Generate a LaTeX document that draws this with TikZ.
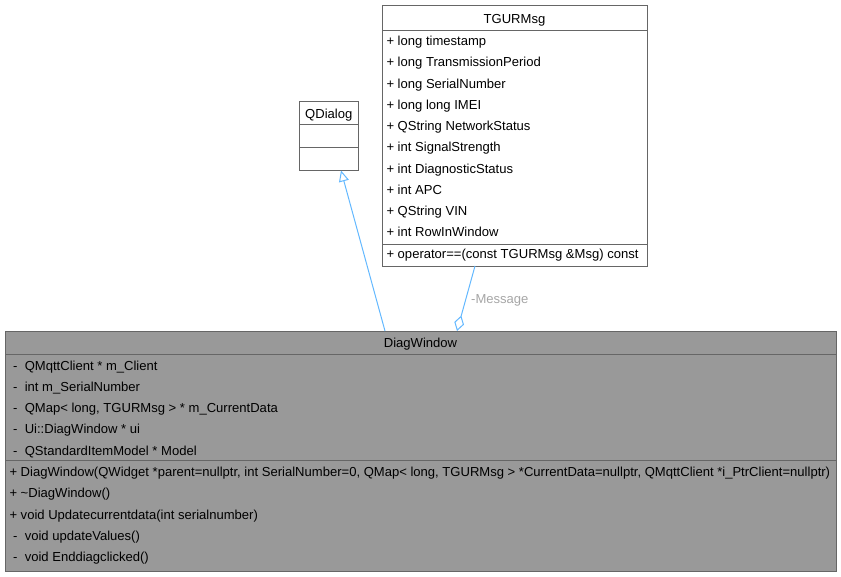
\documentclass[tikz,border=0pt]{standalone}
\usepackage{fontspec}
\setmainfont{Liberation Sans}
\usetikzlibrary{arrows.meta}
\definecolor{edgeblue}{HTML}{63B8FF}
\definecolor{boxborder}{HTML}{666666}
\definecolor{dwfill}{HTML}{999999}
\definecolor{lblgray}{HTML}{A6A6A6}
\newcommand\privm{\makebox[15.3pt][l]{\hspace*{3.5pt}-}}
\begin{document}
\begin{tikzpicture}[x=1pt,y=-1pt,
  every node/.style={font=\fontsize{13.05}{16}\selectfont},
  classbox/.style={draw=boxborder, line width=1pt, fill=white, inner sep=0pt, outer sep=0pt, anchor=north west, rectangle},
  member/.style={inner sep=0pt, anchor=base west},
  ttl/.style={inner sep=0pt, anchor=base},
  sepline/.style={draw=boxborder, line width=1pt},
  conn/.style={draw=edgeblue, line width=1pt},
  lbl/.style={inner sep=0pt, anchor=base west, text=lblgray},
  ]
\useasboundingbox (0,0) rectangle (841,576);

% QDialog
\node[classbox, minimum width=59.5pt, minimum height=69.5pt] (qd) at (299,101) {};
\draw[sepline] ([yshift=-23.5pt]qd.north west) -- ([yshift=-23.5pt]qd.north east);
\draw[sepline] ([yshift=-46pt]qd.north west) -- ([yshift=-46pt]qd.north east);
\node[ttl] (qdt) at (328.75,118.3) {QDialog};

% TGURMsg
\node[classbox, minimum width=265pt, minimum height=261pt] (tg) at (382,5) {};
\draw[sepline] ([yshift=-25.5pt]tg.north west) -- ([yshift=-25.5pt]tg.north east);
\draw[sepline] ([yshift=-239pt]tg.north west) -- ([yshift=-239pt]tg.north east);
\node[ttl] (tgt) at (514.5,23.8) {TGURMsg};
\node[member] (tga1) at (386.3,45.5) {+ long timestamp};
\node[member] (tga2) at (386.3,66.75) {+ long TransmissionPeriod};
\node[member] (tga3) at (386.3,88) {+ long SerialNumber};
\node[member] (tga4) at (386.3,109.25) {+ long long IMEI};
\node[member] (tga5) at (386.3,130.5) {+ QString NetworkStatus};
\node[member] (tga6) at (386.3,151.75) {+ int SignalStrength};
\node[member] (tga7) at (386.3,173) {+ int DiagnosticStatus};
\node[member] (tga8) at (386.3,194.25) {+ int APC};
\node[member] (tga9) at (386.3,215.5) {+ QString VIN};
\node[member] (tga10) at (386.3,236.75) {+ int RowInWindow};
\node[member] (tgm1) at (386.3,258.5) {+ operator==(const TGURMsg \&Msg) const};

% DiagWindow
\node[classbox, fill=dwfill, minimum width=831pt, minimum height=240pt] (dw) at (5,331) {};
\draw[sepline] ([yshift=-23pt]dw.north west) -- ([yshift=-23pt]dw.north east);
\draw[sepline] ([yshift=-129.7pt]dw.north west) -- ([yshift=-129.7pt]dw.north east);
\node[ttl] (dwt) at (420.5,347.8) {DiagWindow};
\node[member] (dwa1) at (9.3,370) {\privm QMqttClient * m\_Client};
\node[member] (dwa2) at (9.3,391.25) {\privm int m\_SerialNumber};
\node[member] (dwa3) at (9.3,412.5) {\privm QMap< long, TGURMsg > * m\_CurrentData};
\node[member] (dwa4) at (9.3,433.75) {\privm Ui::DiagWindow * ui};
\node[member] (dwa5) at (9.3,455) {\privm QStandardItemModel * Model};
\node[member] (dwm1) at (9.3,476.7) {+ DiagWindow(QWidget *parent=nullptr, int SerialNumber=0, QMap< long, TGURMsg > *CurrentData=nullptr, QMqttClient *i\_PtrClient=nullptr)};
\node[member] (dwm2) at (9.3,497.95) {+ \textasciitilde DiagWindow()};
\node[member] (dwm3) at (9.3,519.2) {+ void Updatecurrentdata(int serialnumber)};
\node[member] (dwm4) at (9.3,540.45) {\privm void updateValues()};
\node[member] (dwm5) at (9.3,561.7) {\privm void Enddiagclicked()};

% connectors
\draw[conn, -{Triangle[open, length=11pt, width=10pt, fill=white]}] ([xshift=-35.5pt]dw.north) -- ([xshift=12.25pt]qd.south);
\draw[conn, {Diamond[open, length=16pt, width=10pt, fill=white]}-] ([xshift=36.5pt]dw.north) -- ([xshift=-39.5pt]tg.south);
\node[lbl] (msglbl) at (471,303) {-Message};
\end{tikzpicture}
\end{document}
